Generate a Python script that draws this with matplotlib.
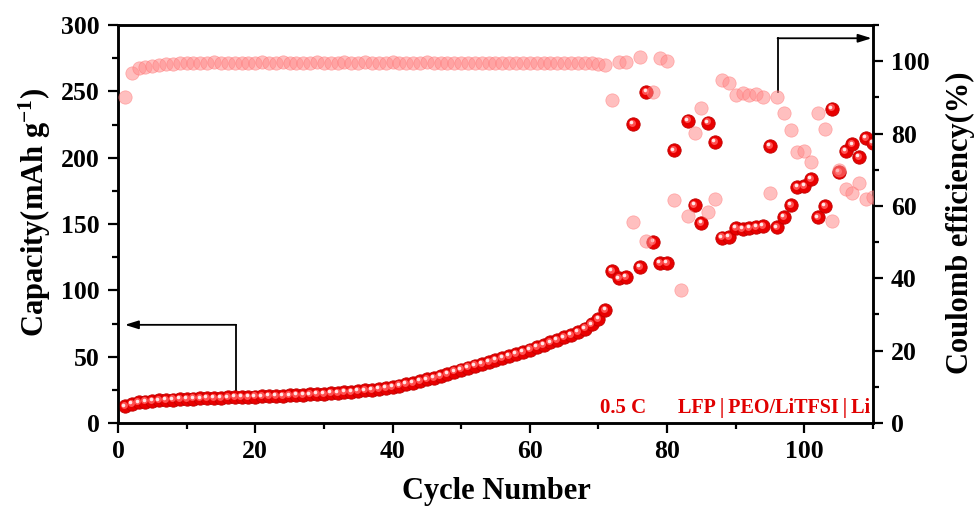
import numpy as np
import matplotlib
matplotlib.use("Agg")
import matplotlib.pyplot as plt
from matplotlib.transforms import offset_copy
from matplotlib.ticker import MultipleLocator

plt.rcParams['font.family'] = ['Liberation Serif', 'DejaVu Serif']
plt.rcParams['font.weight'] = 'bold'
plt.rcParams['mathtext.fontset'] = 'custom'
plt.rcParams['mathtext.rm'] = 'Liberation Serif:bold'
plt.rcParams['mathtext.it'] = 'Liberation Serif:bold'
plt.rcParams['mathtext.bf'] = 'Liberation Serif:bold'

cycles = np.arange(1, 111)

capacity = [
    12.5, 14.5, 15.5, 16.2, 16.7, 17.1, 17.4, 17.7, 18.0, 18.2,
    18.4, 18.6, 18.8, 19.0, 19.1, 19.3, 19.4, 19.6, 19.7, 19.9,
    20.0, 20.2, 20.4, 20.6, 20.8, 21.0, 21.2, 21.5, 21.8, 22.1,
    22.4, 22.8, 23.2, 23.6, 24.1, 24.6, 25.1, 25.8, 26.5, 27.3,
    28.2, 29.2, 30.3, 31.5, 32.8, 34.2, 35.7, 37.2, 38.8, 40.3,
    41.8, 43.3, 44.7, 46.1, 47.5, 48.9, 50.4, 52.0, 53.7, 55.4,
    57.2, 59.0, 60.8, 62.6, 64.5, 66.5, 68.7, 71.2, 74.3, 78.5,
    85.0, 114.8, 109.0, 110.3, 225.5, 117.8, 249.3, 136.7, 120.8, 120.8,
    205.5, np.nan, 228.0, 164.3, 151.0, 226.5, 212.0, 139.8, 140.4, 146.8,
    146.2, 147.0, 147.7, 148.5, 208.8, 147.5, 155.5, 164.3, 178.0, 178.5,
    184.0, 155.0, 163.6, 237.0, 189.4, 205.3, 210.0, 200.7, 214.6, 211.3,
]

efficiency = [
    90.2, 96.8, 98.0, 98.5, 98.8, 99.0, 99.2, 99.3, 99.4, 99.5,
    99.5, 99.6, 99.5, 99.7, 99.6, 99.5, 99.6, 99.6, 99.5, 99.6,
    99.7, 99.6, 99.6, 99.7, 99.6, 99.6, 99.5, 99.6, 99.7, 99.6,
    99.6, 99.6, 99.7, 99.6, 99.6, 99.7, 99.6, 99.6, 99.6, 99.7,
    99.6, 99.6, 99.6, 99.6, 99.7, 99.6, 99.6, 99.5, 99.6, 99.6,
    99.6, 99.6, 99.5, 99.6, 99.6, 99.6, 99.5, 99.6, 99.6, 99.5,
    99.6, 99.5, 99.6, 99.5, 99.5, 99.4, 99.4, 99.6, 99.6, 99.2,
    98.9, 89.3, 99.9, 99.9, 55.5, 101.2, 50.4, 91.6, 100.8, 100.1,
    61.5, 36.7, 57.3, 80.1, 87.0, 58.2, 61.9, 94.8, 93.9, 90.7,
    91.1, 90.7, 90.9, 90.0, 63.5, 90.0, 85.8, 81.0, 75.0, 75.3,
    72.2, 85.8, 81.2, 55.9, 70.0, 64.6, 63.5, 66.2, 62.0, 62.5,
]

x_ticks = [0, 20, 40, 60, 80, 100]
cap_ticks = [0, 50, 100, 150, 200, 250, 300]
ce_ticks = [0, 20, 40, 60, 80, 100]

W, H = 979, 511
fig = plt.figure(figsize=(W / 100, H / 100), dpi=100)
ax = fig.add_axes([118 / W, 1 - 423 / H, (873 - 118) / W, (423 - 25) / H])
ax2 = ax.twinx()

# capacity: glossy red spheres
ms = 9.6
ax.plot(cycles, capacity, 'o', ms=ms, mfc='#e80000', mec='#c00000', mew=0.6, zorder=3)
tr1 = offset_copy(ax.transData, fig=fig, x=-0.8, y=0.8, units='points')
ax.plot(cycles, capacity, 'o', ms=5.0, mfc='#ff5050', mec='none', transform=tr1, zorder=4)
tr2 = offset_copy(ax.transData, fig=fig, x=-1.3, y=1.3, units='points')
ax.plot(cycles, capacity, 'o', ms=2.6, mfc='#ffe8e8', mec='none', transform=tr2, zorder=5)

# coulomb efficiency: translucent pink spheres
ax2.plot(cycles, efficiency, 'o', ms=ms, mfc='#ff8c8c', mec='#ff7070', mew=0.5, alpha=0.55, zorder=3)

ax.set_xlim(0, 110)
ax.set_ylim(0, 300)
ax2.set_ylim(0, 110)

ax.set_xticks(x_ticks)
ax.xaxis.set_minor_locator(MultipleLocator(10))
ax.set_yticks(cap_ticks)
ax.yaxis.set_minor_locator(MultipleLocator(25))
ax2.set_yticks(ce_ticks)
ax2.yaxis.set_minor_locator(MultipleLocator(10))

for a in (ax, ax2):
    for s in a.spines.values():
        s.set_linewidth(1.8)
    a.tick_params(which='major', direction='out', length=7, width=1.6, labelsize=18.5, pad=6)
    a.tick_params(which='minor', direction='out', length=4, width=1.6)
ax.tick_params(axis='x', pad=5)

# arrows
arrow_kw = dict(arrowstyle='-|>,head_length=0.8,head_width=0.25', color='black', lw=1.3,
                shrinkA=0, shrinkB=0)
ax.plot([17.2, 17.2], [22.5, 74], color='black', lw=1.3, zorder=2)
ax.annotate('', xy=(1.0, 74), xytext=(17.2, 74), arrowprops=arrow_kw, zorder=2)
ax.plot([96.1, 96.1], [249.5, 290], color='black', lw=1.3, zorder=2)
ax.annotate('', xy=(109.8, 290), xytext=(96.1, 290), arrowprops=arrow_kw, zorder=2)

# annotations
ax.text(70.2, 11.5, '0.5 C', color='#e00000', fontsize=15, fontweight='bold', ha='left', va='center')
ax.text(109.6, 11.5, 'LFP\u2009|\u2009PEO/LiTFSI\u2009|\u2009Li', color='#e00000', fontsize=14.5,
        fontweight='bold', ha='right', va='center')

# axis labels
fig.text(35 / W, 1 - 212 / H, 'Capacity(mAh g$^{-1}$)', rotation=90, ha='center', va='center',
         fontsize=22, fontweight='bold')
fig.text(960 / W, 1 - 223 / H, 'Coulomb efficiency(%)', rotation=90, ha='center', va='center',
         fontsize=22, fontweight='bold')
fig.text(496 / W, 1 - 491 / H, 'Cycle Number', ha='center', va='center',
         fontsize=22, fontweight='bold')

fig.savefig('out.png', dpi=100)
